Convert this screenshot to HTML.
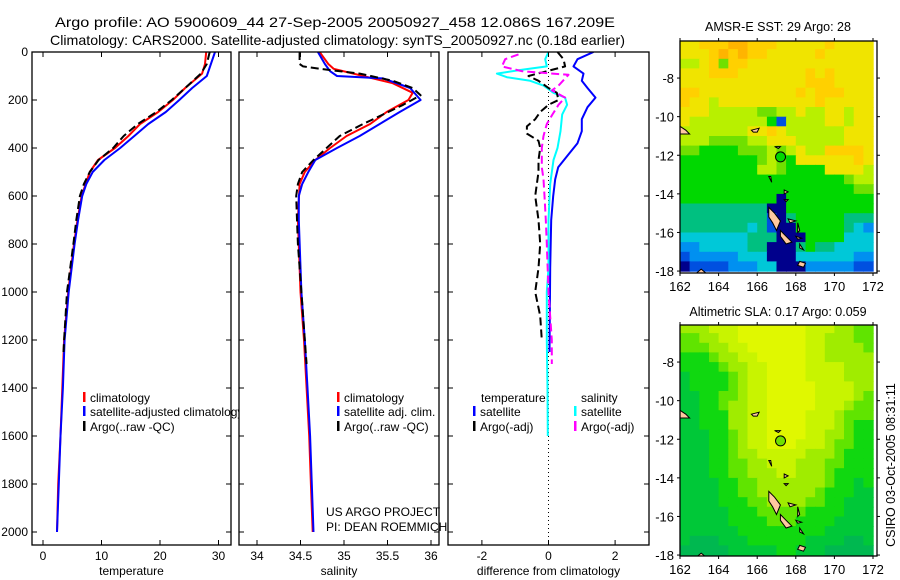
<!DOCTYPE html>
<html><head><meta charset="utf-8"><style>
html,body{margin:0;padding:0;background:#fff;}
svg{display:block;font-family:"Liberation Sans",sans-serif;}
</style></head><body>
<svg id="fig" width="900" height="580" viewBox="0 0 900 580" xmlns="http://www.w3.org/2000/svg">
<text x="55" y="27" font-size="14" textLength="560" lengthAdjust="spacingAndGlyphs">Argo profile: AO 5900609_44 27-Sep-2005 20050927_458 12.086S 167.209E</text>
<text x="50" y="45" font-size="14" textLength="575" lengthAdjust="spacingAndGlyphs">Climatology: CARS2000. Satellite-adjusted climatology: synTS_20050927.nc (0.18d earlier)</text>
<g id="layer"></g>
</svg>
<script>
// ---- profile data ----
const depthTClim=[0,50,90,150,200,250,300,350,400,450,500,550,600,700,800,1000,1200,1400,1600,1800,2000];
const tempClim=[27.9,27.7,27.2,24.3,22.2,19.7,16.6,14.6,12.3,9.4,8.0,7.3,6.6,5.9,5.3,4.3,3.6,3.3,3.0,2.6,2.4];
const depthTSat=[0,50,100,150,200,250,300,350,400,450,500,550,600,700,800,1000,1200,1400,1600,1800,2000];
const tempSat=[29.4,28.7,28.0,25.5,23.3,21.0,18.0,15.6,13.2,10.5,8.5,7.4,6.7,6.0,5.4,4.4,3.7,3.4,3.0,2.7,2.4];
const depthTArgo=[0,50,90,150,200,250,300,350,400,450,500,550,600,700,800,1000,1200,1250];
const tempArgo=[28.5,28.0,27.0,24.3,22.0,19.4,16.2,13.8,12.0,9.5,8.0,7.0,6.3,5.7,5.2,4.1,3.6,3.5];
const depthSClim=[0,50,70,100,130,170,200,250,300,350,400,450,500,550,700,1000,1200,1400,1600,1800,2000];
const salClim=[34.72,34.82,34.88,35.22,35.56,35.79,35.74,35.49,35.30,35.03,34.84,34.67,34.55,34.49,34.47,34.50,34.54,34.57,34.60,34.62,34.64];
const depthSSat=[0,50,80,100,110,150,200,250,300,350,400,450,500,550,600,700,1000,1200,1400,1600,1800,2000];
const salSat=[34.70,34.78,34.84,34.92,35.45,35.76,35.88,35.64,35.41,35.18,34.92,34.67,34.59,34.52,34.48,34.48,34.51,34.55,34.58,34.61,34.63,34.65];
const depthSArgo=[0,50,60,70,90,120,150,180,220,260,300,350,400,450,500,550,600,700,800,1000,1200,1300];
const salArgo=[34.49,34.49,34.53,34.72,35.18,35.56,35.79,35.88,35.68,35.45,35.22,34.95,34.80,34.65,34.52,34.47,34.45,34.46,34.47,34.51,34.55,34.57];
// ---- difference data ----
const depthDT=[0,30,60,90,120,150,190,230,280,330,380,430,480,530,600,700,900,1100,1250];
const diffTSat=[1.35,0.87,0.75,1.05,1.0,1.17,1.41,1.17,1.0,1.0,0.87,0.58,0.29,0.2,0.14,0.08,0.05,0.04,0.03];
const depthDS=[0,30,60,75,90,105,120,140,170,190,220,260,330,400,450,550,700,900,1000,1200,1400,1600];
const diffSSat=[0.0,-0.1,-0.05,-0.85,-1.55,-1.25,-0.55,-0.15,0.15,0.5,0.56,0.41,0.36,0.27,0.15,0.05,0.0,0.0,-0.05,-0.05,-0.03,-0.02];
const depthDTA=[0,30,60,80,100,120,150,170,200,220,250,280,310,340,370,400,450,500,600,700,800,900,1000,1100,1200];
const diffTArgo=[0.27,0.45,0.5,-0.05,-0.6,-0.3,0.0,0.25,0.3,0.0,-0.25,-0.4,-0.65,-0.65,-0.3,-0.25,-0.3,-0.3,-0.4,-0.3,-0.25,-0.3,-0.4,-0.25,-0.2];
const depthDSA=[10,30,60,80,95,110,140,160,190,220,260,300,350,400,480,530,600,700,800,1000,1200,1300];
const diffSArgo=[-0.9,-1.3,-1.4,-0.8,0.6,0.5,0.3,0.1,0.5,0.3,0.12,-0.05,-0.15,-0.2,-0.2,-0.15,-0.12,-0.08,-0.05,0.0,0.1,0.1];
// ---- tick labels ----
const depthTicks=[0,200,400,600,800,1000,1200,1400,1600,1800,2000];
const tempTicks=[0,10,20,30];
const salTicks=[34,34.5,35,35.5,36];
const salTickLabels=["34","34.5","35","35.5","36"];
const diffTicks=[-2,0,2];
const lonTicks=[162,164,166,168,170,172];
const latTicks=[-8,-10,-12,-14,-16,-18];
// ---- map grids (0.5 deg cells, lon 162-172, lat -6 to -18) ----
const sstRows=[
"88999aa9998888898888","8889a9a9988888988888","77896998888888888888","88899988888889898888",
"88888888888889998888","99888888888898999888","98878888888888988888","88877777667787788788",
"87777777751777788788","77777778898777777888","77766667788877777888","66555566676787799998",
"55555555676588888898","55555555776555588887","55555555555555555677","55555555555555555566",
"55555555550555555555","44444444400555555555","44444444410455555444","44444443410055555432",
"33333334440005555333","22333334400045443333","12222233300033333322","01111222330002222211"];
const slaRows=[
"44455566666665554433","33445566666665544433","33344556666665544443","22234455666665544444",
"22223445566665555444","12222345566665555444","12222345566666555544","11223345566666555543",
"11223445566666555433","11222445566665554333","11222445566665554322","11122345566665544322",
"11122345566655543322","11122344555554443222","11122334455544433222","11122334445544432222",
"11112233444444432212","11112233444444322211","11112223344443322111","11111222333332222111",
"11111222233322221111","11111122222222211111","10001112222221111001","00000111112211100000"];
const sstPalette={"0":"#00008c","1":"#0050e0","2":"#0090f0","3":"#00c8d8","4":"#00c080","5":"#00d800","6":"#70e000","7":"#b8f000","8":"#f0e400","9":"#ffd000","a":"#ffb400"};
const slaPalette={"0":"#00b850","1":"#00c838","2":"#10d810","3":"#60e400","4":"#a0ec00","5":"#c8f400","6":"#e0f800"};
const islands=[
[[166.6,-14.7],[166.9,-15.0],[167.2,-15.4],[167.0,-15.9],[166.8,-15.5],[166.6,-15.2]],
[[167.2,-15.9],[167.5,-16.2],[167.8,-16.5],[167.5,-16.6],[167.2,-16.2]],
[[168.2,-17.5],[168.5,-17.6],[168.4,-17.8],[168.1,-17.7]],
[[167.6,-15.3],[168.0,-15.4],[167.7,-15.5]],
[[168.1,-15.5],[168.2,-15.9],[168.1,-16.0]],
[[168.0,-16.2],[168.3,-16.3],[168.1,-16.35]],
[[168.2,-16.6],[168.4,-16.9],[168.2,-16.8]],
[[167.4,-13.8],[167.6,-13.9],[167.4,-14.0]],
[[167.4,-14.3],[167.6,-14.3],[167.5,-14.4]],
[[165.7,-10.7],[166.1,-10.6],[166.0,-10.8],[165.8,-10.8]],
[[162.0,-10.5],[162.3,-10.7],[162.5,-10.9],[162.0,-10.9]],
[[162.8,-18.15],[163.1,-17.9],[163.4,-18.15]],
[[166.6,-13.1],[166.7,-13.1],[166.75,-13.4]],
[[166.9,-11.55],[167.2,-11.55],[167.1,-11.65]]];
const floatPos=[167.209,-12.086];

const NS="http://www.w3.org/2000/svg";
const layer=document.getElementById('layer');
function mk(tag,attrs,parent){const e=document.createElementNS(NS,tag);for(const k in attrs)e.setAttribute(k,attrs[k]);(parent||layer).appendChild(e);return e;}
const TOP=52,BOT=545;
function yD(d){return TOP+d*0.24;}
function xT(v){return 43+v*5.85;}
function xS(v){return 257+(v-34)*87;}
function xDf(v){return 548.5+v*33.3;}

function panel(name,x0,x1,xs,ticks,labels,xlabel,drawY){
  const g=mk('g',{});
  
  
  mk('rect',{x:x0,y:TOP,width:x1-x0,height:BOT-TOP,fill:'#fff'},g);
  const cid='clip-'+name;
  const cp=mk('clipPath',{id:cid},g);mk('rect',{x:x0,y:TOP,width:x1-x0,height:BOT-TOP},cp);
  const inner=mk('g',{'clip-path':'url(#'+cid+')'},g);
  ticks.forEach((t,i)=>{
    const x=xs(t);
    mk('line',{x1:x,y1:BOT,x2:x,y2:BOT-5,stroke:'#000'},g);
    mk('line',{x1:x,y1:TOP,x2:x,y2:TOP+5,stroke:'#000'},g);
    const tl=mk('text',{x:x,y:560,'font-size':12,'text-anchor':'middle'},g);tl.textContent=labels[i];
    
    
  });
  depthTicks.forEach(d=>{
    const y=yD(d);
    mk('line',{x1:x0,y1:y,x2:x0+5,y2:y,stroke:'#000'},g);
    mk('line',{x1:x1,y1:y,x2:x1-5,y2:y,stroke:'#000'},g);
    if(drawY){const tl=mk('text',{x:28,y:y+4,'font-size':12,'text-anchor':'end'},g);tl.textContent=String(d);
      
      }
  });
  mk('rect',{x:x0,y:TOP,width:x1-x0,height:BOT-TOP,fill:'none',stroke:'#000','stroke-width':1.3},g);
  const xl=mk('text',{x:(x0+x1)/2,y:575,'font-size':12,'text-anchor':'middle'},g);xl.textContent=xlabel;
  
  
  return inner;
}
function line(parent,name,xs,vals,depths,color,dash,w){
  const pts=vals.map((v,i)=>xs(v).toFixed(1)+','+yD(depths[i]).toFixed(1)).join(' ');
  const p=mk('polyline',{points:pts,fill:'none',stroke:color,'stroke-width':w||2,'stroke-linejoin':'round'},parent);
  if(dash)p.setAttribute('stroke-dasharray',dash);
  
  
}
function legend(parent,x,y,color,label,name){
  mk('rect',{x:x,y:y-6,width:2.5,height:10,fill:color},parent);
  const t=mk('text',{x:x+7,y:y+4,'font-size':12},parent);t.textContent=label;
  
  
}

// Panel 1 temperature
const p1=panel('temperature-panel',32,231,xT,tempTicks,tempTicks.map(String),'temperature',true);
line(p1,'temp-climatology-line',xT,tempClim,depthTClim,'#f00');
line(p1,'temp-satellite-line',xT,tempSat,depthTSat,'#00f');
line(p1,'temp-argo-line',xT,tempArgo,depthTArgo,'#000','8,4');
legend(layer,83,398,'#f00','climatology','legend-climatology');
legend(layer,83,412,'#00f','satellite-adjusted climatology','legend-satellite-adjusted');
legend(layer,83,427,'#000','Argo(..raw -QC)','legend-argo');

// Panel 2 salinity
const p2=panel('salinity-panel',239,439,xS,salTicks,salTickLabels,'salinity',false);
line(p2,'sal-climatology-line',xS,salClim,depthSClim,'#f00');
line(p2,'sal-satellite-line',xS,salSat,depthSSat,'#00f');
line(p2,'sal-argo-line',xS,salArgo,depthSArgo,'#000','8,4');
legend(p2,337,398,'#f00','climatology','legend-sal-climatology');
legend(p2,337,412,'#00f','satellite adj. clim.','legend-sal-satellite');
legend(p2,337,427,'#000','Argo(..raw -QC)','legend-sal-argo');
const us=mk('text',{x:326,y:516,'font-size':12});us.textContent='US ARGO PROJECT';


const pi=mk('text',{x:326,y:531,'font-size':12});pi.textContent='PI: DEAN ROEMMICH';



// Panel 3 differences
const p3=panel('difference-panel',448,649,xDf,diffTicks,diffTicks.map(String),'difference from climatology',false);
mk('line',{x1:xDf(0),y1:TOP,x2:xDf(0),y2:BOT,stroke:'#000','stroke-dasharray':'1,3'},p3);
line(p3,'diff-temp-satellite-line',xDf,diffTSat,depthDT,'#00f');
line(p3,'diff-sal-satellite-line',xDf,diffSSat,depthDS,'#0ff');
line(p3,'diff-temp-argo-line',xDf,diffTArgo,depthDTA,'#000','8,4');
line(p3,'diff-sal-argo-line',xDf,diffSArgo,depthDSA,'#f0f','8,4');
const lt=mk('text',{x:481,y:402,'font-size':12});lt.textContent='temperature';


legend(layer,473,412,'#00f','satellite','legend-temp-satellite');
legend(layer,473,427,'#000','Argo(-adj)','legend-temp-argo');
const ls=mk('text',{x:581,y:402,'font-size':12});ls.textContent='salinity';


legend(layer,574,412,'#0ff','satellite','legend-sal-sat');
legend(layer,574,427,'#f0f','Argo(-adj)','legend-sal-argo-diff');

// Maps
function map(name,top,bottom,rows,pal,title,titleY,circleFill){
  const L=680,R=877,lonL=162,pxDeg=19.3;
  const latTop=-6.08;
  const xm=lon=>L+(lon-lonL)*pxDeg;
  const ym=lat=>top+(latTop-lat)*pxDeg;
  const g=mk('g',{});
  
  
  const cid='clip-'+name;
  const cp=mk('clipPath',{id:cid},g);mk('rect',{x:L,y:top,width:R-L,height:bottom-top},cp);
  const inner=mk('g',{'clip-path':'url(#'+cid+')'},g);
  rows.forEach((row,r)=>{
    for(let c=0;c<row.length;c++){
      const lon=162+c*0.5, lat=-6+(-0.5*r);
      const x=xm(lon),y=ym(lat);
      const cell=mk('rect',{x:x.toFixed(1),y:(r===0?top:y).toFixed(1),width:(pxDeg*0.5+0.6).toFixed(1),height:((r===0?y-top:0)+pxDeg*0.5+0.6).toFixed(1),fill:pal[row[c]]},inner);
      
      
    }
  });
  islands.forEach(poly=>{
    const p=mk('polygon',{points:poly.map(q=>xm(q[0]).toFixed(1)+','+ym(q[1]).toFixed(1)).join(' '),fill:'#ffc8a0',stroke:'#000','stroke-width':1},inner);
    
    
  });
  const fc=mk('circle',{cx:xm(floatPos[0]),cy:ym(floatPos[1]),r:5,fill:circleFill,stroke:'#000','stroke-width':1},inner);
  
  
  mk('rect',{x:L,y:top,width:R-L,height:bottom-top,fill:'none',stroke:'#000','stroke-width':1.3},g);
  lonTicks.forEach(lon=>{
    const x=xm(lon);
    mk('line',{x1:x,y1:bottom,x2:x,y2:bottom+3,stroke:'#000'},g);
    mk('line',{x1:x,y1:top,x2:x,y2:top-3,stroke:'#000'},g);
    const t=mk('text',{x:x,y:bottom+18,'font-size':13,'text-anchor':'middle'},g);t.textContent=String(lon);
    
    
  });
  latTicks.forEach(lat=>{
    const y=ym(lat);
    mk('line',{x1:L,y1:y,x2:L-3,y2:y,stroke:'#000'},g);
    mk('line',{x1:R,y1:y,x2:R+3,y2:y,stroke:'#000'},g);
    const t=mk('text',{x:674,y:y+5,'font-size':13,'text-anchor':'end'},g);t.textContent=String(lat);
    
    
  });
  const tt=mk('text',{x:778,y:titleY,'font-size':12.5,'text-anchor':'middle'},g);tt.textContent=title;
  
  
}
map('sst-map',41,273,sstRows,sstPalette,'AMSR-E SST: 29 Argo: 28',31,'#00d800');
map('sla-map',325,556,slaRows,slaPalette,'Altimetric SLA: 0.17 Argo: 0.059',316,'#70e000');
const cs=mk('text',{x:0,y:0,'font-size':12.5,'text-anchor':'middle',transform:'translate(895,465) rotate(-90)'});
cs.textContent='CSIRO 03-Oct-2005 08:31:11';


</script>
</body></html>
